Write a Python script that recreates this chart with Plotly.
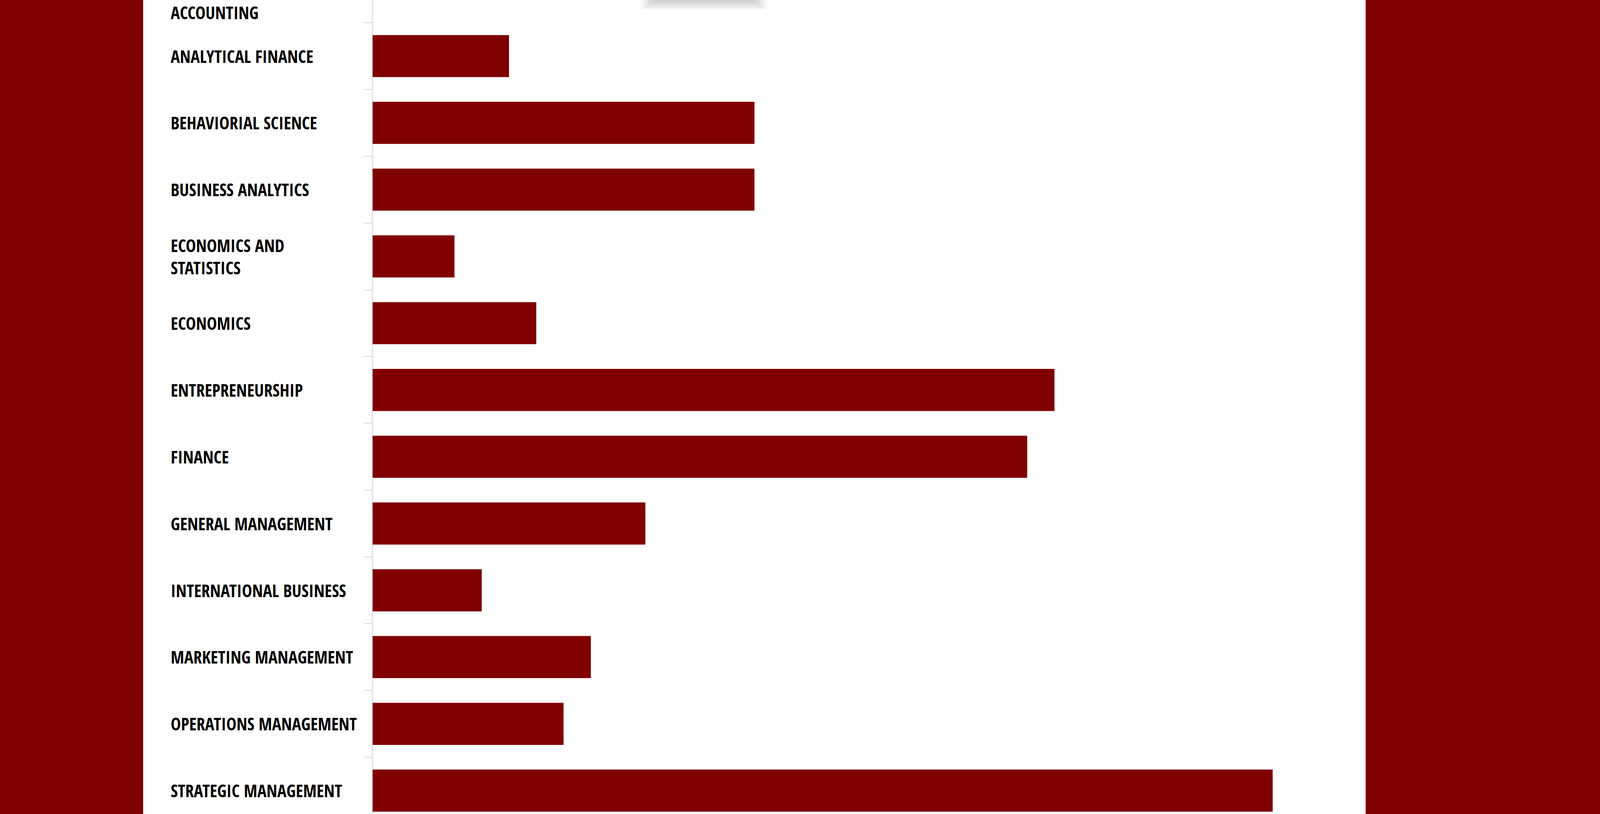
import plotly.graph_objects as go

# programs listed top to bottom, number of students per program
programs = [
    "ACCOUNTING",
    "ANALYTICAL FINANCE",
    "BEHAVIORIAL SCIENCE",
    "BUSINESS ANALYTICS",
    "ECONOMICS AND STATISTICS",
    "ECONOMICS",
    "ENTREPRENEURSHIP",
    "FINANCE",
    "GENERAL MANAGEMENT",
    "INTERNATIONAL BUSINESS",
    "MARKETING MANAGEMENT",
    "OPERATIONS MANAGEMENT",
    "STRATEGIC MANAGEMENT",
]
students = [0, 5, 14, 14, 3, 6, 25, 24, 10, 4, 8, 7, 33]
label_text = [p.replace("ECONOMICS AND ", "ECONOMICS AND<br>") for p in programs]

MAROON = "#800000"
W, H = 5000, 2083
left, right = 1165, 4267      # plot area in page pixels
span = right - left

fig = go.Figure(
    go.Bar(
        x=students,
        y=programs,
        orientation="h",
        marker=dict(color=MAROON, line=dict(width=0)),
        hoverinfo="skip",
    )
)

# label column, left aligned like the page's own text
for i, txt in enumerate(label_text):
    fig.add_annotation(
        x=(532 - left) / span,
        xref="paper",
        xanchor="left",
        y=i if i else 0.35,  # first row is half cut off by the top edge
        yref="y",
        text=txt,
        align="left",
        showarrow=False,
        font=dict(family="Open Sans Condensed, Roboto Condensed, DejaVu Sans Condensed, sans-serif",
                  size=44, color="#000000", weight="bold"),
    )

shapes = [
    # white page column
    dict(type="rect", xref="paper", yref="paper", layer="below",
         x0=(448 - left) / span, x1=1, y0=0, y1=1,
         fillcolor="white", line=dict(width=0)),
]
# soft shadow of a box sitting just above the visible area
for k in range(6):
    shapes.append(dict(
        type="rect", xref="paper", yref="paper", layer="above",
        x0=(2040 - 7 * k - left) / span,
        x1=(2360 + 7 * k - left) / span,
        y0=1 - (5 + 4 * k) / H, y1=1,
        fillcolor="rgba(0,0,0,0.03)", line=dict(width=0),
    ))

fig.update_layout(
    width=W,
    height=H,
    margin=dict(l=left, r=W - right, t=0, b=0, pad=0),
    paper_bgcolor=MAROON,
    plot_bgcolor="rgba(0,0,0,0)",
    bargap=0.37,
    showlegend=False,
    shapes=shapes,
    xaxis=dict(range=[0, span / 85.2], visible=False),
    yaxis=dict(
        type="category",
        categoryorder="array",
        categoryarray=programs,
        range=[12.35, 0.16],
        showticklabels=False,
        showgrid=False,
        zeroline=False,
        showline=True,
        linecolor="#d4d4d4",
        linewidth=2,
        ticks="outside",
        tickson="boundaries",
        ticklen=19,
        tickwidth=2,
        tickcolor="#d4d4d4",
    ),
)

# fit the page width to the browser window, keeping the horizontal proportions
post = """
document.body.style.margin = '0';
var gd = document.getElementsByClassName('plotly-graph-div')[0];
var s = window.innerWidth / %d;
if (Math.abs(s - 1) > 0.001) {
    Plotly.relayout(gd, {width: window.innerWidth, 'margin.l': %d * s, 'margin.r': %d * s});
}
""" % (W, left, W - right)

fig.write_html("out.html", post_script=post, config={"displayModeBar": False})
